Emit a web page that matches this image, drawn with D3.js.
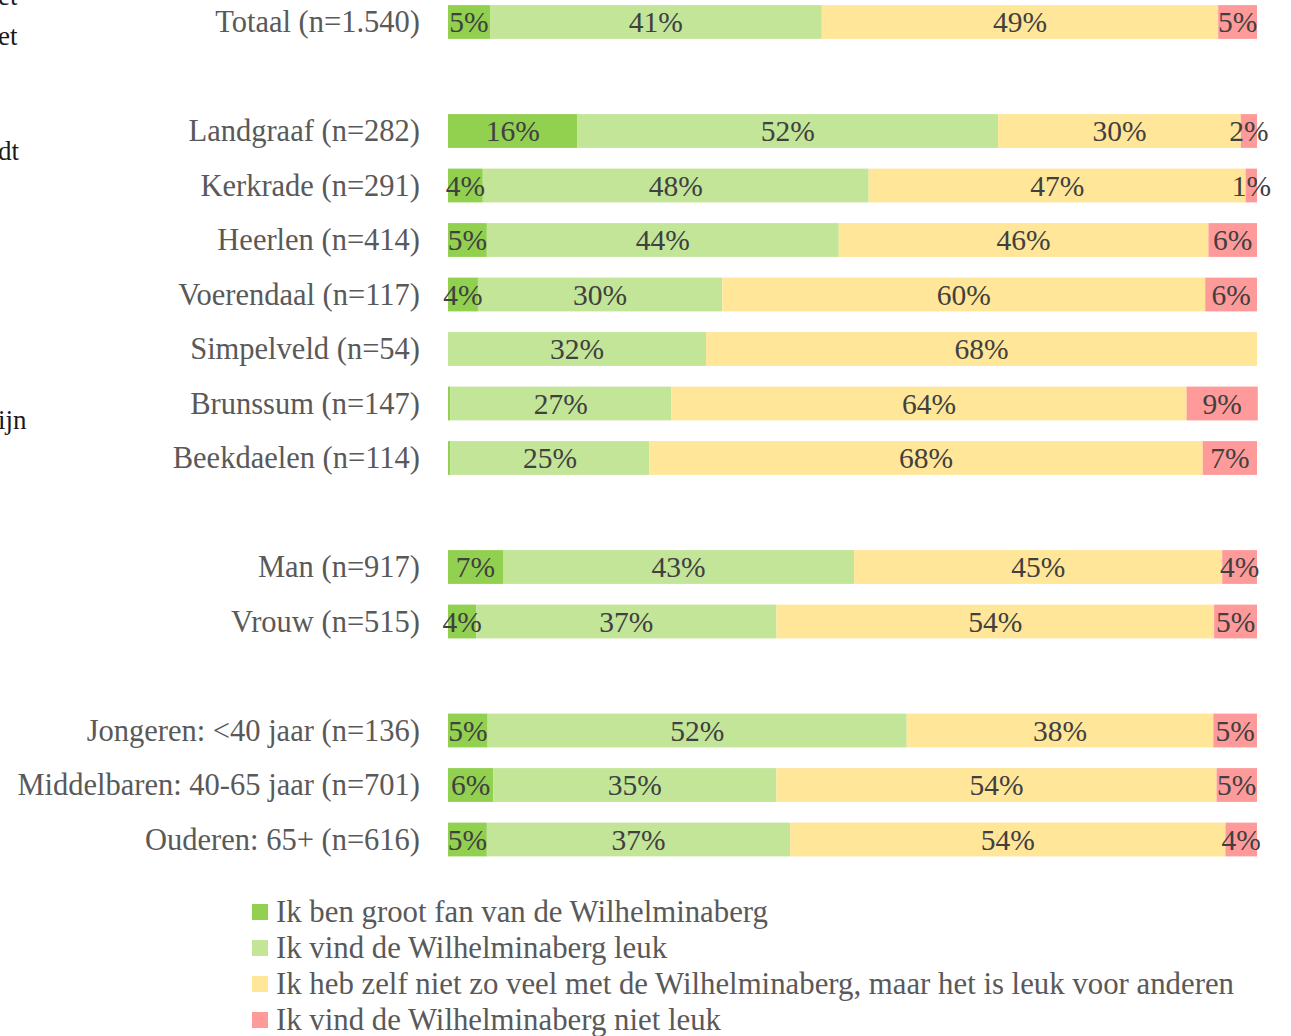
<!DOCTYPE html>
<html><head><meta charset="utf-8">
<script src="https://cdn.jsdelivr.net/npm/d3@7"></script>
<style>body{margin:0;background:#fff}svg{display:block}</style>
</head><body>
<script>
const categories = ["Totaal (n=1.540)", "", "Landgraaf (n=282)", "Kerkrade (n=291)", "Heerlen (n=414)", "Voerendaal (n=117)", "Simpelveld (n=54)", "Brunssum (n=147)", "Beekdaelen (n=114)", " ", "Man (n=917)", "Vrouw (n=515)", "  ", "Jongeren: <40 jaar (n=136)", "Middelbaren: 40-65 jaar (n=701)", "Ouderen: 65+ (n=616)"];
const seriesNames = ["Ik ben groot fan van de Wilhelminaberg", "Ik vind de Wilhelminaberg leuk", "Ik heb zelf niet zo veel met de Wilhelminaberg, maar het is leuk voor anderen", "Ik vind de Wilhelminaberg niet leuk"];
const grootFan = [5.2, null, 16, 4.3, 4.8, 3.7, 0, 0.3, 0.3, null, 6.8, 3.5, null, 4.9, 5.6, 4.8];
const leuk     = [41, null, 52, 47.7, 43.5, 30.2, 31.9, 27.3, 24.6, null, 43.4, 37.1, null, 51.8, 35, 37.5];
const anderen  = [49, null, 30, 46.6, 45.7, 59.7, 68.1, 63.7, 68.4, null, 45.5, 54.1, null, 37.9, 54.4, 53.8];
const nietLeuk = [4.8, null, 2, 1.4, 6, 6.4, 0, 8.8, 6.7, null, 4.3, 5.3, null, 5.4, 5, 3.9];
const valueLabels = [
  ["5%","41%","49%","5%"], null,
  ["16%","52%","30%","2%"], ["4%","48%","47%","1%"], ["5%","44%","46%","6%"], ["4%","30%","60%","6%"],
  ["","32%","68%",""], ["","27%","64%","9%"], ["","25%","68%","7%"], null,
  ["7%","43%","45%","4%"], ["4%","37%","54%","5%"], null,
  ["5%","52%","38%","5%"], ["6%","35%","54%","5%"], ["5%","37%","54%","4%"]
];
const colors = ["#92d050", "#c2e598", "#ffe699", "#ff9a9a"];
const leftFragments = ["et", "et", "dt", "ijn"];

const W = 1291, H = 1036;
const svg = d3.select("body").append("svg").attr("width", W).attr("height", H);
const font = "'Liberation Serif', 'Times New Roman', serif";

const x = d3.scaleLinear().domain([0, 100]).range([448, 1257]);
const y = d3.scaleBand().domain(categories).range([-5.25, 866.75]).paddingInner(0.38).paddingOuter(0.19);

const series = [grootFan, leuk, anderen, nietLeuk];
const rows = categories.map((c, i) => ({c, i, vals: series.map(s => s[i])})).filter(r => r.vals[0] !== null);

// left cut-off fragments (continuation of text outside the picture)
const fragY = [-4, 36, 151, 420];
svg.selectAll("text.frag").data(leftFragments).join("text").attr("class","frag")
  .attr("x", -2).attr("y", (d,i)=>fragY[i]).attr("dy","0.35em")
  .attr("font-family", font).attr("font-size", 27).attr("fill", "#1a1a1a").text(d=>d);

const g = svg.append("g");
rows.forEach(r => {
  let acc = 0;
  const segs = r.vals.map((v, k) => { const s = {k, x0: acc, x1: acc + v, lab: valueLabels[r.i][k]}; acc += v; return s; });
  const row = g.append("g");
  row.selectAll("rect").data(segs).join("rect")
    .attr("x", d => x(d.x0)).attr("width", d => Math.max(0, x(d.x1) - x(d.x0)))
    .attr("y", y(r.c)).attr("height", y.bandwidth())
    .attr("fill", d => colors[d.k]);
  row.selectAll("text").data(segs.filter(d => d.lab)).join("text")
    .attr("x", d => (x(d.x0) + x(d.x1)) / 2).attr("y", y(r.c) + y.bandwidth() / 2)
    .attr("dy", "0.35em").attr("text-anchor", "middle")
    .attr("font-family", font).attr("font-size", 29.5).attr("fill", "#404040")
    .text(d => d.lab);
  svg.append("text").attr("x", 420).attr("y", y(r.c) + y.bandwidth() / 2).attr("dy", "0.33em")
    .attr("text-anchor", "end").attr("font-family", font).attr("font-size", 30.5).attr("fill", "#595959")
    .text(r.c);
});

// legend
const legend = svg.append("g");
const ly = d3.scalePoint().domain(seriesNames).range([912, 1020]);
legend.selectAll("rect").data(seriesNames).join("rect")
  .attr("x", 252).attr("y", d => ly(d) - 8).attr("width", 16).attr("height", 16)
  .attr("fill", (d, i) => colors[i]);
legend.selectAll("text").data(seriesNames).join("text")
  .attr("x", 276).attr("y", d => ly(d)).attr("dy", "0.33em")
  .attr("font-family", font).attr("font-size", 30.8).attr("fill", "#595959")
  .text(d => d);
</script>
</body></html>
